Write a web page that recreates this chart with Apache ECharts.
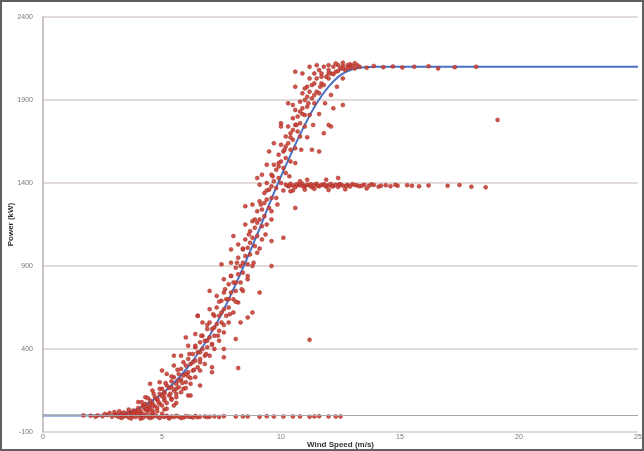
<!DOCTYPE html>
<html>
<head>
<meta charset="utf-8">
<script src="https://cdn.jsdelivr.net/npm/echarts@6/dist/echarts.min.js"></script>
<style>
  html, body { margin: 0; padding: 0; background: #fff; }
  #wrap { position: relative; width: 644px; height: 451px; }
  #graph { width: 644px; height: 451px; }
  #frame { position: absolute; left: 0; top: 0; width: 644px; height: 451px; box-sizing: border-box; border: 2px solid #5f5f5f; pointer-events: none; }
</style>
</head>
<body>
<div id="wrap">
  <div id="graph"></div>
  <div id="frame"></div>
</div>
<script>
// 功率曲线 (m/s, kW)
var curveSpeed = [0, 1, 2, 3, 3.5, 4, 4.5, 5, 5.5, 6, 6.5, 7, 7.5, 8, 8.5, 9, 9.5, 10, 10.5, 11, 11.5, 12, 12.5, 13, 13.5, 14, 16, 18, 20, 22, 25];
var curvePower = [0, 0, 0, 0, 15, 40, 80, 130, 195, 275, 370, 480, 610, 760, 920, 1090, 1270, 1440, 1600, 1750, 1880, 1980, 2050, 2085, 2098, 2100, 2100, 2100, 2100, 2100, 2100];

// 测量点 - 上升段
var bandPoints = [
  [3.1,5],[3.3,12],[3.4,2],[3.6,20],[3.7,8],[3.8,30],[3.9,15],[4.0,45],[4.1,25],[4.2,60],[4.3,35],[4.3,70],[4.4,50],[4.5,90],[4.5,40],
  [4.6,75],[4.7,110],[4.7,55],[4.8,95],[4.9,130],[4.9,70],[5.0,115],[5.0,160],[5.1,90],[5.1,140],[5.2,180],[5.3,120],[5.3,165],[5.4,205],
  [5.4,100],[5.5,150],[5.5,230],[5.6,190],[5.6,130],[5.7,250],[5.7,170],[5.8,215],[5.8,280],[5.9,160],[5.9,240],[6.0,300],[6.0,200],
  [6.1,260],[6.1,340],[6.2,225],[6.2,310],[6.3,370],[6.3,270],[6.4,330],[6.4,410],[6.5,290],[6.5,380],[6.6,440],[6.6,340],[6.7,400],
  [6.7,480],[6.8,360],[6.8,450],[6.9,520],[6.9,410],[7.0,470],[7.0,560],[7.1,430],[7.1,520],[7.2,600],[7.2,480],[7.3,550],[7.3,650],
  [7.4,510],[7.4,600],[7.5,690],[7.5,560],[7.6,640],[7.6,740],[7.7,600],[7.7,700],[7.8,790],[7.8,650],[7.9,740],[7.9,840],[8.0,700],
  [8.0,800],[8.1,890],[8.1,750],[8.2,850],[8.2,950],[8.3,800],[8.3,900],[8.4,1000],[8.4,860],[8.5,960],[8.5,1060],[8.6,910],[8.6,1010],
  [8.7,1110],[8.7,970],[8.8,1070],[8.8,1170],[8.9,1020],[8.9,1130],[9.0,1230],[9.0,1080],[9.1,1180],[9.1,1290],[9.2,1140],[9.2,1240],
  [9.3,1340],[9.3,1200],[9.4,1300],[9.4,1400],[9.5,1250],[9.5,1360],[9.6,1450],[9.6,1310],[9.7,1410],[9.7,1510],[9.8,1370],[9.8,1480],
  [9.9,1570],[9.9,1430],[10.0,1530],[10.0,1630],[10.1,1490],[10.1,1590],[10.2,1680],[10.2,1550],[10.3,1640],[10.3,1740],[10.4,1600],
  [10.4,1700],[10.5,1790],[10.5,1660],[10.6,1750],[10.6,1840],[10.7,1710],[10.7,1800],[10.8,1890],[10.8,1760],[10.9,1850],[10.9,1940],
  [11.0,1810],[11.0,1900],[11.1,1980],[11.1,1860],[11.2,1950],[11.2,2030],[11.3,1910],[11.3,1990],[11.4,2060],[11.5,1950],[11.5,2030],
  [11.6,2080],[11.7,2000],[11.7,2060],[11.8,2100],[11.9,2040],[12.0,2080],[12.0,2110],[12.1,2060],[12.2,2100],[12.3,2070],[12.4,2110],
  [12.5,2090],[12.6,2105],[12.7,2080],[12.8,2110],[12.9,2095],[13.0,2105],[13.1,2090],[13.2,2110],
  [3.5,0],[3.8,5],[4.1,10],[4.4,20],[4.6,30],[4.8,45],[5.0,60],[5.2,75],[5.4,95],[5.6,110],[5.8,140],[6.0,165],[6.2,190],[6.4,230],
  [6.6,270],[6.8,310],[7.0,360],[7.2,400],[7.4,450],[7.6,500],[7.8,560],[8.0,620],[8.2,680],[8.4,750],[8.6,820],[8.8,900],[9.0,980],
  [9.2,1060],[9.4,1150],[9.6,1230],[9.8,1310],[10.0,1400],[10.2,1460],[10.4,1530],[10.6,1610],[10.8,1680],[11.0,1740],[11.2,1810],
  [11.4,1880],[11.6,1940],[11.8,1990],[12.0,2030],[12.2,2055],[12.4,2075],[12.6,2090],[12.8,2095],
  [4.0,80],[4.3,110],[4.6,150],[4.9,200],[5.2,250],[5.5,300],[5.8,360],[6.1,420],[6.4,490],[6.7,560],[7.0,640],[7.3,720],[7.6,820],
  [7.9,920],[8.2,1030],[8.5,1150],[8.8,1270],[9.1,1390],[9.4,1510],[9.7,1640],[10.0,1760],[10.3,1880],[10.6,1980],[10.9,2060],[11.2,2100],
  [11.5,2110],
  [3.9,25],[4.2,50],[4.5,65],[4.8,100],[5.1,130],[5.4,170],[5.7,210],[6.0,250],[6.3,320],[6.6,380],[6.9,450],[7.2,530],[7.5,620],
  [7.8,700],[8.1,800],[8.4,920],[8.7,1040],[9.0,1160],[9.3,1280],[9.6,1380],[9.9,1500],[10.2,1620],[10.5,1720],[10.8,1830],[11.1,1920],
  [11.4,2000],[11.7,2040],[12.0,2060],
  [4.15,80],[4.4,105],[4.65,130],[4.9,160],[5.15,195],[5.4,235],[5.65,275],[5.9,320],[6.15,370],[6.4,420],[6.65,480],[6.9,545],
  [7.15,610],[7.4,685],[7.65,760],[7.9,840],[8.15,920],[8.4,1005],[8.65,1090],[8.9,1180],[9.15,1270],[9.4,1355],[9.65,1440],[9.9,1520],
  [10.15,1600],[10.4,1675],[10.65,1750],[10.9,1815],[11.15,1880],[11.4,1930],[11.65,1980],
  [4.35,40],[4.6,60],[4.85,80],[5.1,105],[5.35,130],[5.6,160],[5.85,195],[6.1,235],[6.35,275],[6.6,320],[6.85,370],[7.1,425],[7.35,480],
  [7.6,545],[7.85,610],[8.1,685],[8.35,760],[8.6,840],[8.85,920],[9.1,1005],[9.35,1090],[9.6,1180],[9.85,1270],[10.1,1355],[10.35,1440],
  [10.6,1520],[10.85,1600],[11.1,1675],[11.35,1750],[11.6,1815],[11.85,1880],[12.1,1930],[12.35,1980],[12.6,2030],
  [4.5,190],[5.0,270],[5.5,360],[6.0,470],[6.5,600],[7.0,750],[7.5,910],[8.0,1080],[8.5,1260],[9.0,1430],[9.5,1590],[10.0,1740],
  [10.5,1870],[11.0,1970],
  [4.6,10],[5.1,35],[5.6,75],[6.1,120],[6.6,180],[7.1,260],[7.6,350],[8.1,460],[8.6,590],[9.1,740],[9.6,900],[10.1,1070],[10.6,1250],
  [11.1,1420],[11.6,1590],[12.1,1740],[12.6,1870]
];

// 降功率运行 (~1385 kW)
var deratedPoints = [
  [10.2,1390],[10.3,1380],[10.4,1395],[10.5,1385],[10.6,1375],[10.7,1390],[10.8,1385],[10.9,1395],[11.0,1380],[11.1,1390],[11.2,1385],
  [11.3,1375],[11.4,1390],[11.5,1395],[11.6,1380],[11.7,1388],[11.8,1392],[11.9,1378],[12.0,1386],[12.1,1394],[12.2,1382],[12.3,1389],
  [12.4,1376],[12.5,1391],[12.6,1384],[12.8,1388],[12.9,1379],[13.0,1393],[13.2,1385],[13.3,1380],[13.5,1390],[13.7,1383],[13.9,1388],
  [14.1,1378],[14.4,1386],[14.6,1381],[14.9,1384],[15.3,1387],[15.8,1380],[16.2,1385],[17.0,1383],[17.5,1388],[18.0,1378],[18.6,1374],
  [10.5,1355],[11.0,1360],[11.4,1365],[12.0,1358],[12.7,1362],[13.6,1367],[10.8,1410],[11.9,1420],[12.4,1430],
  [10.35,1383],[10.65,1392],[10.95,1378],[11.25,1393],[11.55,1383],[11.85,1387],[12.15,1379],[12.45,1392],[12.75,1383],[13.1,1388],
  [13.4,1384],[13.8,1392],[14.2,1384],[14.8,1389],[15.5,1383]
];

// 额定功率
var ratedPoints = [
  [13.3,2100],[13.6,2095],[13.9,2105],[14.3,2098],[14.7,2102],[15.1,2096],[15.6,2100],[16.2,2104],[16.6,2090],[17.3,2098],[18.2,2100],
  [12.3,2120],[12.6,2125],[12.9,2115],[13.1,2122]
];

// 零功率
var zeroPoints = [
  [2.3,0],[2.5,-5],[2.7,2],[2.9,-8],[3.0,5],[3.1,-3],[3.2,-10],[3.3,3],[3.4,-6],[3.5,0],[3.6,-12],[3.7,4],[3.8,-4],[3.9,-9],[4.0,2],
  [4.1,-6],[4.2,-14],[4.3,0],[4.4,-8],[4.5,-3],[4.6,-11],[4.7,1],[4.8,-7],[4.9,-15],[5.0,-4],[5.1,-9],[5.2,-2],[5.3,-12],[5.4,-6],
  [5.5,-10],[5.6,-3],[5.7,-8],[5.9,-13],[6.0,-5],[6.2,-9],[6.4,-4],[6.5,-11],[6.8,-6],[7.0,-8],[7.6,-5],[8.1,-7],[8.6,-6],[9.1,-8],
  [9.4,-5],[10.1,-7],[10.5,-6],[11.2,-8],[11.6,-5],[12.0,-7],[12.5,-6],
  [2.6,8],[2.8,15],[3.0,20],[3.2,25],[3.4,18],[3.6,35],[3.8,12],[4.0,28],[4.2,8],[4.4,35],[4.6,15],[4.8,25],[5.0,10],[5.2,40],
  [3.3,-15],[3.7,-18],[4.1,-20],[4.5,-16],[5.3,-18],[5.8,-15],[2.0,-2],[1.7,0],[2.2,-8],
  [6.1,-7],[6.3,-13],[6.6,-8],[6.9,-10],[7.2,-6],[7.4,-9],[8.4,-6],[9.7,-7],[10.8,-6],[11.4,-6],[12.3,-7]
];

var outlierPoints = [
  [5.5,60],[6.2,120],[7.6,400],[8.3,560],[9.6,1050],[10.4,1350],[11.3,1600],[12.2,1850],[12.0,1750],[8.8,620],[7.1,290],[11.8,1700],
  [9.2,1450],[7.9,1000],[6.5,600],[10.6,2070],[8.2,285],[11.2,455],[19.1,1780]
];

var xTicks = [0, 5, 10, 15, 20, 25];
var yTicks = [-100, 400, 900, 1400, 1900, 2400];

var curveData = curveSpeed.map(function (s, i) { return [s, curvePower[i]]; });
var allPoints = bandPoints.concat(deratedPoints, ratedPoints, zeroPoints, outlierPoints);

var dom = document.getElementById('graph');
var myChart = echarts.init(dom);
var option = {
    animation: false,
    backgroundColor: '#ffffff',
    grid: { left: 43, right: 6, top: 17, bottom: 19, outerBoundsMode: 'none', containLabel: false },
    xAxis: {
        type: 'value',
        min: xTicks[0],
        max: xTicks[xTicks.length - 1],
        interval: 5,
        name: 'Wind Speed (m/s)',
        nameLocation: 'middle',
        nameGap: 9,
        nameMoveOverlap: false,
        nameTextStyle: { fontFamily: 'Liberation Sans', fontSize: 8, fontWeight: 'bold', color: '#333' },
        axisLine: { onZero: false, show: false },
        axisTick: { show: false },
        axisLabel: { margin: 2, fontFamily: 'Liberation Sans', fontSize: 7, color: '#777' },
        splitLine: { show: false }
    },
    yAxis: {
        type: 'value',
        min: yTicks[0],
        max: yTicks[yTicks.length - 1],
        interval: 500,
        name: 'Power (kW)',
        nameLocation: 'middle',
        nameGap: 28,
        nameRotate: 90,
        nameMoveOverlap: false,
        nameTextStyle: { fontFamily: 'Liberation Sans', fontSize: 8, fontWeight: 'bold', color: '#333' },
        axisLine: { show: true, lineStyle: { color: '#b9b2b0', width: 1.5 } },
        axisTick: { show: false },
        axisLabel: {
            margin: 10, fontFamily: 'Liberation Sans', fontSize: 7, color: '#777',
            formatter: function (v) { return String(v); }
        },
        splitLine: { show: true, lineStyle: { color: '#d8cecc', width: 1.5 } }
    },
    series: [
        {
            type: 'line',
            data: curveData,
            smooth: 0.4,
            showSymbol: false,
            z: 1,
            lineStyle: { color: '#4a72c6', width: 2 },
            markLine: {
                silent: true,
                symbol: 'none',
                label: { show: false },
                lineStyle: { color: '#a7a7a7', type: 'solid', width: 1 },
                data: [{ yAxis: 0 }]
            }
        },
        {
            type: 'scatter',
            data: allPoints,
            symbolSize: 4,
            z: 2,
            itemStyle: { color: '#c9443a', borderColor: '#a2241b', borderWidth: 0.5, opacity: 0.9 }
        }
    ]
};
myChart.setOption(option);
</script>
</body>
</html>
